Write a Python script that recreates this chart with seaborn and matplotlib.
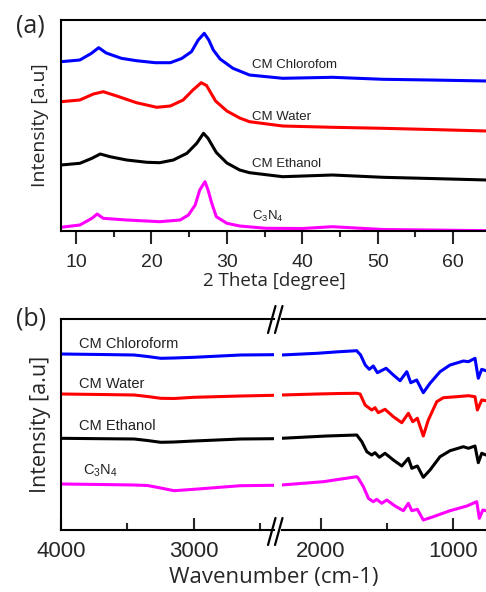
import matplotlib
matplotlib.use("Agg")
import matplotlib.pyplot as plt
from matplotlib.lines import Line2D
from matplotlib.ticker import MultipleLocator
import seaborn as sns

# ---- panel (a): XRD ----
theta_blue = [8, 10.5, 12, 13, 14, 16, 18, 20.5, 22.5, 24, 25.3, 26.2, 27, 27.6, 28.2, 29.1, 30.8, 33, 37.4, 44, 50.7, 57, 64.5]
xrd_chloroform = [169.3, 171, 177.5, 183.3, 178, 172.7, 170.3, 168.3, 168.3, 172.5, 179.3, 191, 197.7, 191, 181, 172, 162.7, 156, 152.7, 153.7, 151.7, 151, 150]

theta_red = [8, 10.5, 12.3, 13.6, 15.4, 18, 20.7, 22.5, 24.2, 25.5, 26.6, 27.3, 28.5, 30, 31.7, 33, 37.4, 44, 50.7, 57, 64.5]
xrd_water = [129.3, 131, 137, 139.3, 135, 128.3, 123.7, 125, 131, 141, 148.3, 145.5, 130, 120, 113, 109.3, 105, 103.7, 102.7, 101.5, 100]

theta_black = [8, 10.5, 12.1, 13.2, 14.5, 16.7, 19.4, 21.1, 22.9, 24.7, 26, 26.9, 27.5, 28.6, 30, 31.7, 33, 37.4, 44, 50.7, 57, 64.5]
xrd_ethanol = [66, 67.7, 72.7, 77, 74.3, 71, 68.7, 68.3, 71, 77.7, 87.7, 97.7, 92.7, 78.5, 68, 61, 58.3, 54.3, 56, 53.7, 52.5, 51]

theta_mag = [8, 10.5, 12.1, 12.8, 13.6, 16.7, 21.1, 23.8, 24.9, 25.8, 26.4, 27.1, 27.5, 28, 28.6, 30, 31.7, 35.2, 40, 44, 50.7, 57, 64.5]
xrd_c3n4 = [3.7, 6, 12.7, 17, 12.7, 11, 9.3, 11, 16, 26, 41, 49.3, 41, 27.7, 14.3, 7.7, 5, 2.7, 2.5, 4.3, 1.5, 1, 0.3]

# ---- panel (b): FTIR, left part (4000-2400) ----
wn_left = [4000, 3700, 3450, 3350, 3250, 3150, 3000, 2650, 2400]
ir_left_chloroform = [176, 175.5, 175, 173.5, 171.7, 172, 172.7, 175, 175.3]
ir_left_water = [136, 135.5, 135, 133.5, 131.7, 131.5, 132.7, 134, 134.7]
ir_left_ethanol = [91.7, 91.3, 91, 89.5, 87.7, 88, 89, 91, 91.3]
ir_left_c3n4 = [46, 45.5, 45, 44.5, 42, 39.3, 40.7, 44.3, 44.7]

# ---- panel (b): FTIR, right part (2300-750) ----
wn_blue = [2300, 2030, 1860, 1730, 1700, 1665, 1634, 1604, 1573, 1507, 1452, 1401, 1350, 1320, 1275, 1225, 1174, 1098, 1022, 921, 883, 833, 808, 782, 750]
ir_chloroform = [175, 176.7, 178.3, 179.3, 175, 165, 160.7, 164, 157.3, 161.7, 155, 149.3, 158.3, 147.3, 150, 137.3, 146.7, 158.3, 165, 169, 168.3, 171.7, 151.7, 160.7, 159.3]

wn_red = [2300, 2030, 1860, 1729, 1704, 1666, 1616, 1591, 1566, 1515, 1452, 1388, 1338, 1305, 1270, 1225, 1187, 1123, 1073, 971, 883, 833, 815, 782, 750]
ir_water = [135, 136, 136.5, 136.7, 136, 125, 120, 122.3, 117.3, 120.7, 113.3, 107.3, 116.7, 108.3, 111.7, 94, 110, 128.3, 132.3, 133.3, 134.3, 133.3, 120, 130, 129.3]

wn_black = [2300, 1957, 1729, 1691, 1653, 1616, 1591, 1558, 1515, 1452, 1388, 1338, 1312, 1270, 1225, 1174, 1098, 1022, 921, 883, 833, 808, 782, 750]
ir_ethanol = [91.7, 94, 95, 88.3, 78.3, 75, 77.3, 72.7, 76.7, 70, 64, 71.7, 61.7, 64, 52.7, 60, 73.3, 79.3, 83.3, 81.7, 84, 67.3, 76.7, 75]

wn_mag = [2300, 1983, 1729, 1717, 1679, 1641, 1604, 1578, 1540, 1502, 1439, 1376, 1338, 1312, 1270, 1225, 1149, 1022, 895, 820, 800, 774, 750]
ir_c3n4 = [45, 48.3, 53.3, 51.7, 43.3, 31.7, 28.3, 30.7, 26.7, 30, 24, 19.3, 26.7, 19.3, 20.7, 10, 13.3, 19.3, 24, 28.3, 11.7, 20, 19.3]

xrd_names = ["CM Chlorofom", "CM Water", "CM Ethanol", "C$_3$N$_4$"]
ir_names = ["CM Chloroform", "CM Water", "CM Ethanol", "C$_3$N$_4$"]
colors = ["#0000ff", "#ff0000", "#000000", "#ff00ff"]

sns.set_style("ticks")
plt.rcParams['font.family'] = ['Liberation Sans', 'DejaVu Sans']
plt.rcParams['mathtext.default'] = 'regular'

W, H = 486, 592
fig = plt.figure(figsize=(W / 100, H / 100), dpi=100)


def box(x0, y0, x1, y1):
    return [x0 / W, 1 - y1 / H, (x1 - x0) / W, (y1 - y0) / H]


lw = 2.2
label_font = ['Open Sans', 'DejaVu Sans']

# panel (a)
ax_a = fig.add_axes(box(61, 20, 487, 231))
xrd_sets = [(theta_blue, xrd_chloroform), (theta_red, xrd_water),
            (theta_black, xrd_ethanol), (theta_mag, xrd_c3n4)]
for (xs, ys), c in zip(xrd_sets, colors):
    sns.lineplot(x=xs, y=ys, ax=ax_a, color=c, linewidth=lw)
ax_a.set_xlim(8, 64.5)
ax_a.set_ylim(0, 211)
ax_a.xaxis.set_major_locator(MultipleLocator(10))
ax_a.xaxis.set_minor_locator(MultipleLocator(5))
ax_a.tick_params(axis='x', which='major', direction='out', length=9.5, width=1.5,
                 labelsize=14, pad=7)
ax_a.tick_params(axis='x', which='minor', direction='out', length=4.5, width=1.5)
ax_a.set_yticks([])
for s in ['left', 'top', 'bottom']:
    ax_a.spines[s].set_linewidth(1.5)
    ax_a.spines[s].set_color('black')
ax_a.spines['right'].set_visible(False)
ax_a.set_xlabel("2 Theta [degree]", fontsize=13.5, labelpad=1, family=label_font)
ax_a.set_ylabel("Intensity [a.u]", fontsize=14, labelpad=9, family=label_font)
xrd_label_y = [166, 114, 67, 15]
for name, ly in zip(xrd_names, xrd_label_y):
    ax_a.text(33.3, ly, name, fontsize=9.5, va='center', ha='left', color='#222222')

# panel (b)
ax_l = fig.add_axes(box(61, 319, 274, 530))
ax_r = fig.add_axes(box(282, 319, 487, 530))
left_sets = [ir_left_chloroform, ir_left_water, ir_left_ethanol, ir_left_c3n4]
right_sets = [(wn_blue, ir_chloroform), (wn_red, ir_water),
              (wn_black, ir_ethanol), (wn_mag, ir_c3n4)]
for ys, (xr, yr), c in zip(left_sets, right_sets, colors):
    sns.lineplot(x=wn_left, y=ys, ax=ax_l, color=c, linewidth=lw)
    sns.lineplot(x=xr, y=yr, ax=ax_r, color=c, linewidth=lw)

ax_l.set_xlim(4000, 2398)
ax_r.set_xlim(2296, 742)
for ax in (ax_l, ax_r):
    ax.set_ylim(0, 211)
    ax.set_yticks([])
    ax.xaxis.set_major_locator(MultipleLocator(1000))
    ax.xaxis.set_minor_locator(MultipleLocator(500))
    ax.tick_params(axis='x', which='major', direction='in', length=9, width=1.5,
                   labelsize=16, pad=8)
    ax.tick_params(axis='x', which='minor', direction='in', length=5, width=1.5)
    ax.spines['right'].set_visible(False)
    for s in ['left', 'top', 'bottom']:
        ax.spines[s].set_linewidth(1.5)
        ax.spines[s].set_color('black')
ax_r.spines['left'].set_visible(False)
ax_l.set_xticks([4000, 3000])
ax_r.set_xticks([2000, 1000])

ax_l.set_ylabel("Intensity [a.u]", fontsize=15.5, labelpad=7, family=label_font)
fig.text((61 + 486) / 2 / W, 1 - 578 / H, "Wavenumber (cm-1)", fontsize=16,
         ha='center', va='center', family=label_font)

ir_label_x = [3865, 3865, 3865, 3835]
ir_label_y = [186, 146, 104, 59]
for name, lx, ly in zip(ir_names, ir_label_x, ir_label_y):
    ax_l.text(lx, ly, name, fontsize=10.5, va='center', ha='left', color='#222222')

# axis break marks
for (ya, yb) in [(333, 306), (545, 518)]:
    for xa in (268, 275):
        fig.add_artist(Line2D([xa / W, (xa + 7.5) / W], [1 - ya / H, 1 - yb / H],
                              transform=fig.transFigure, color='black', lw=1.6))

fig.text(30 / W, 1 - 26 / H, "(a)", fontsize=18, ha='center', va='center', family=label_font)
fig.text(31 / W, 1 - 319 / H, "(b)", fontsize=18, ha='center', va='center', family=label_font)

fig.savefig("out.png", dpi=100)
